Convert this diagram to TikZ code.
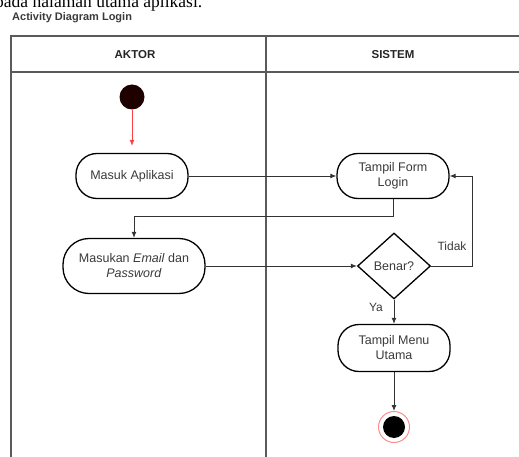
\documentclass[tikz,border=0pt]{standalone}
\usepackage{fontspec}
\setmainfont{Liberation Serif}
\setsansfont{Liberation Sans}
\usetikzlibrary{arrows.meta,shapes.geometric}

\definecolor{lajur}{HTML}{5A5A5A}
\definecolor{teks}{HTML}{3A3A3A}
\definecolor{mulaimerah}{HTML}{1E0000}

\tikzset{
  aktivitas/.style={draw=black, line width=1.3pt, rounded corners=21pt,
    minimum width=112pt, minimum height=45pt, align=center, text=teks,
    font=\sffamily\fontsize{12.5}{15}\selectfont},
  keputusan/.style={diamond, draw=black, line width=1.3pt, inner sep=0pt,
    minimum width=73pt, minimum height=66pt, text=teks,
    font=\sffamily\fontsize{12.5}{15}\selectfont},
  alur/.style={draw=black!80, line width=0.9pt, -{Latex[length=6pt,width=5pt]}},
  label/.style={text=teks, font=\sffamily\fontsize{12}{14}\selectfont},
  judul/.style={text=black!85, font=\sffamily\bfseries\fontsize{11.5}{13}\selectfont}
}

\begin{document}
\begin{tikzpicture}[x=1pt,y=-1pt]
        \useasboundingbox (0,0) rectangle (519,457);
        \clip (0,0) rectangle (519,457);

        % potongan kalimat di atas gambar
        \node[anchor=base west, inner sep=0pt, font=\fontsize{17.5}{20}\selectfont] (kalimat) at (-5,8) {pada halaman utama aplikasi.};
        \node[anchor=west, inner sep=0pt, text=teks, font=\sffamily\bfseries\fontsize{11}{13}\selectfont] (judul) at (12,18) {Activity Diagram Login};

        % swimlane
        \draw[lajur, line width=1.6pt] (11,457) -- (11,36) -- (520,36);
        \draw[lajur, line width=1.6pt] (11,72) -- (520,72);
        \draw[lajur, line width=1.6pt] (266,36) -- (266,457);
        \node[judul] (aktor) at (135,55) {AKTOR};
        \node[judul] (sistem) at (393,55) {SISTEM};

        % aktivitas
        \node[circle, fill=mulaimerah, minimum size=25pt, inner sep=0pt] (mulai) at (132,97) {};
        \node[aktivitas] (masuk) at (132,176) {Masuk Aplikasi};
        \node[aktivitas] (form) at (393,176) {Tampil Form\\Login};
        \node[aktivitas, minimum width=142pt, minimum height=55pt, rounded corners=26pt] (masukan) at (134,266) {Masukan \textit{Email} dan\\\textit{Password}};
        \node[keputusan] (cek) at (394,266) {Benar?};
        \node[aktivitas, minimum height=47pt] (menu) at (394,348) {Tampil Menu\\Utama};
        \node[circle, draw=red!45, line width=1pt, minimum size=31pt, inner sep=0pt] (akhir) at (394,427) {};
        \fill[black] (akhir) circle (11pt);

        % alur
        \draw[-{Latex[length=6pt,width=5pt]}, red!75, line width=0.8pt, shorten >=7pt] (mulai) -- (masuk);
        \draw[alur] (masuk) -- (form);
        \draw[alur] (form.south) -- ++(0,17) -| (masukan.north);
        \draw[alur] (masukan) -- (cek);
        \draw[alur] (cek.east) -- ++(41,0) |- (form.east);
        \node[label] (tidak) at (452,246) {Tidak};
        \draw[alur] (cek.south) -- (menu.north);
        \node[label] (ya) at (376,307) {Ya};
        \draw[alur] (menu.south) -- (akhir.north);
      \end{tikzpicture}
\end{document}
